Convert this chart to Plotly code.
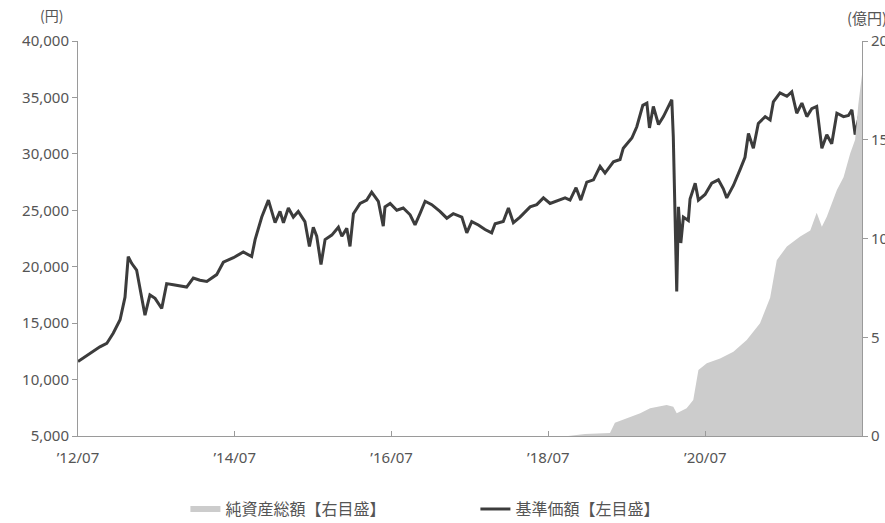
import plotly.graph_objects as go

# 基準価額 (円) - left axis
nav_dates = [
    "2012-07-01", "2012-08-26", "2012-10-11", "2012-11-12", "2012-12-12", "2013-01-13",
    "2013-02-05", "2013-02-20", "2013-03-08", "2013-03-31", "2013-04-16", "2013-05-09",
    "2013-06-01", "2013-06-25", "2013-07-26", "2013-08-18", "2013-09-18", "2013-11-19",
    "2013-12-20", "2014-01-20", "2014-02-21", "2014-04-08", "2014-05-09", "2014-06-25",
    "2014-08-10", "2014-09-18", "2014-10-04", "2014-11-04", "2014-12-05", "2015-01-05",
    "2015-01-28", "2015-02-13", "2015-03-08", "2015-03-31", "2015-04-23", "2015-05-24",
    "2015-06-14", "2015-07-02", "2015-07-18", "2015-08-07", "2015-08-26", "2015-09-26",
    "2015-10-27", "2015-11-12", "2015-12-05", "2015-12-20", "2016-01-05", "2016-02-05",
    "2016-03-07", "2016-03-30", "2016-04-30", "2016-05-23", "2016-05-31", "2016-06-24",
    "2016-07-25", "2016-08-24", "2016-09-25", "2016-10-18", "2016-11-10", "2016-12-04",
    "2017-01-04", "2017-02-11", "2017-03-15", "2017-04-14", "2017-05-24", "2017-06-16",
    "2017-07-09", "2017-08-09", "2017-09-09", "2017-10-10", "2017-10-26", "2017-12-03",
    "2017-12-27", "2018-01-19", "2018-02-19", "2018-04-07", "2018-05-08", "2018-06-08",
    "2018-07-09", "2018-08-09", "2018-09-17", "2018-10-10", "2018-11-07", "2018-11-29",
    "2018-12-27", "2019-01-27", "2019-02-27", "2019-03-22", "2019-04-30", "2019-05-31",
    "2019-06-15", "2019-07-25", "2019-08-17", "2019-09-14", "2019-10-03", "2019-10-15",
    "2019-11-02", "2019-11-26", "2019-12-19", "2020-01-27", "2020-02-03", "2020-02-19",
    "2020-02-27", "2020-03-09", "2020-03-21", "2020-04-13", "2020-04-21", "2020-05-15",
    "2020-05-30", "2020-06-30", "2020-07-31", "2020-08-31", "2020-09-23", "2020-10-09",
    "2020-11-09", "2020-12-10", "2021-01-02", "2021-01-18", "2021-02-10", "2021-03-05",
    "2021-04-06", "2021-04-29", "2021-05-14", "2021-06-14", "2021-07-16", "2021-08-08",
    "2021-08-31", "2021-09-24", "2021-10-17", "2021-11-09", "2021-12-02", "2021-12-26",
    "2022-01-18", "2022-02-10", "2022-03-06", "2022-04-06", "2022-04-29", "2022-05-15",
    "2022-05-30", "2022-06-14", "2022-07-01",
]
nav_values = [
    11600, 12350, 12900, 13200, 14100, 15300,
    17300, 20900, 20300, 19700, 17900, 15700,
    17500, 17200, 16300, 18500, 18400, 18200,
    19000, 18800, 18700, 19300, 20400, 20800,
    21300, 20900, 22400, 24400, 25900, 23900,
    24900, 23900, 25200, 24400, 24900, 24000,
    21800, 23500, 22700, 20200, 22400, 22800,
    23500, 22700, 23400, 21800, 24700, 25600,
    25900, 26600, 25800, 23600, 25300, 25600,
    25000, 25200, 24600, 23700, 24700, 25800,
    25500, 24900, 24300, 24700, 24400, 23000,
    24000, 23700, 23300, 23000, 23800, 24000,
    25200, 23900, 24400, 25300, 25500, 26100,
    25600, 25800, 26100, 25900, 27000, 25900,
    27500, 27700, 28900, 28300, 29300, 29500,
    30500, 31400, 32400, 34300, 34500, 32300,
    34200, 32600, 33300, 34800, 31500, 17800,
    25300, 22100, 24400, 24100, 26000, 27400,
    25900, 26400, 27400, 27700, 26900, 26100,
    27200, 28600, 29700, 31800, 30500, 32700,
    33300, 33000, 34600, 35400, 35100, 35500,
    33600, 34500, 33300, 34000, 34200, 30500,
    31700, 30900, 33600, 33300, 33400, 33900,
    31700, 33000, 34300,
]

# 純資産総額 (億円) - right axis
aum_dates = [
    "2012-07-01", "2018-10-01", "2018-12-19", "2019-04-14", "2019-05-07", "2019-07-01",
    "2019-09-02", "2019-10-18", "2020-01-03", "2020-02-03", "2020-02-19", "2020-04-05",
    "2020-05-06", "2020-05-30", "2020-07-08", "2020-09-08", "2020-11-09", "2021-01-10",
    "2021-03-13", "2021-04-29", "2021-05-30", "2021-07-16", "2021-09-16", "2021-11-02",
    "2021-12-02", "2021-12-26", "2022-01-18", "2022-03-06", "2022-04-06", "2022-05-07",
    "2022-05-30", "2022-06-14", "2022-07-01",
]
aum_values = [
    0, 0, 0.1, 0.15, 0.67, 0.89,
    1.15, 1.40, 1.57, 1.48, 1.15, 1.40,
    1.82, 3.34, 3.68, 3.93, 4.27, 4.86,
    5.71, 7.0, 8.9, 9.6, 10.1, 10.4,
    11.3, 10.6, 11.1, 12.45, 13.1, 14.3,
    15.0, 16.8, 18.3,
]

x_tick_vals = ["2012-07-01", "2014-07-01", "2016-07-01", "2018-07-01", "2020-07-01"]
x_tick_text = ["’12/07", "’14/07", "’16/07", "’18/07", "’20/07"]
left_ticks = [5000, 10000, 15000, 20000, 25000, 30000, 35000, 40000]
right_ticks = [0, 5, 10, 15, 20]

AXIS_COLOR = "#9a9a9a"
TEXT_COLOR = "#555555"
TICK_FONT = dict(family="Noto Sans", size=15, color=TEXT_COLOR)

fig = go.Figure()

fig.add_trace(go.Scatter(
    x=aum_dates, y=aum_values, yaxis="y2", mode="lines",
    line=dict(width=0, color="#cccccc"), fill="tozeroy", fillcolor="#cccccc",
    showlegend=False, hoverinfo="skip",
))
fig.add_trace(go.Scatter(
    x=[None], y=[None], yaxis="y2", mode="lines",
    line=dict(width=6, color="#cccccc"), name="純資産総額【右目盛】",
))
fig.add_trace(go.Scatter(
    x=nav_dates, y=nav_values, mode="lines",
    line=dict(width=3, color="#3c3c3c"), name="基準価額【左目盛】",
))

fig.update_layout(
    width=885, height=523,
    margin=dict(l=78, r=23, t=41, b=87, autoexpand=False),
    paper_bgcolor="white", plot_bgcolor="white",
    xaxis=dict(
        type="date", range=["2012-07-01", "2022-07-01"],
        tickvals=x_tick_vals, ticktext=x_tick_text,
        showgrid=False, zeroline=False, automargin=False,
        showline=True, linecolor=AXIS_COLOR, linewidth=1,
        ticks="inside", ticklen=5, tickcolor=AXIS_COLOR,
        ticklabelstandoff=8,
        tickfont=TICK_FONT,
    ),
    yaxis=dict(
        range=[5000, 40000], tickvals=left_ticks, tickformat=",d",
        showgrid=False, zeroline=False, automargin=False,
        showline=True, linecolor=AXIS_COLOR, linewidth=1,
        ticks="outside", ticklen=5, tickcolor=AXIS_COLOR,
        tickfont=TICK_FONT,
    ),
    yaxis2=dict(
        range=[0, 20], tickvals=right_ticks, overlaying="y", side="right",
        showgrid=False, zeroline=False, automargin=False,
        showline=True, linecolor=AXIS_COLOR, linewidth=1,
        ticks="outside", ticklen=5, tickcolor=AXIS_COLOR,
        tickfont=TICK_FONT,
    ),
    legend=dict(
        orientation="h", x=0.137, y=-0.185, xanchor="left", yanchor="middle",
        font=dict(family="Noto Sans CJK JP", size=16, color=TEXT_COLOR),
        entrywidth=245, entrywidthmode="pixels",
        traceorder="normal",
    ),
    annotations=[
        dict(text="(円)", xref="paper", yref="paper", x=0, xshift=-27, y=1.0, yshift=26,
             xanchor="center", yanchor="middle", showarrow=False,
             font=dict(family="Noto Sans CJK JP", size=14, color=TEXT_COLOR)),
        dict(text="(億円)", xref="paper", yref="paper", x=1.0, xshift=-17, y=1.0, yshift=24,
             xanchor="left", yanchor="middle", showarrow=False,
             font=dict(family="Noto Sans CJK JP", size=15, color=TEXT_COLOR)),
    ],
)

fig.write_html(
    "out.html",
    config={"displayModeBar": False},
    post_script="document.body.style.margin='0';document.body.style.overflow='hidden';",
)
